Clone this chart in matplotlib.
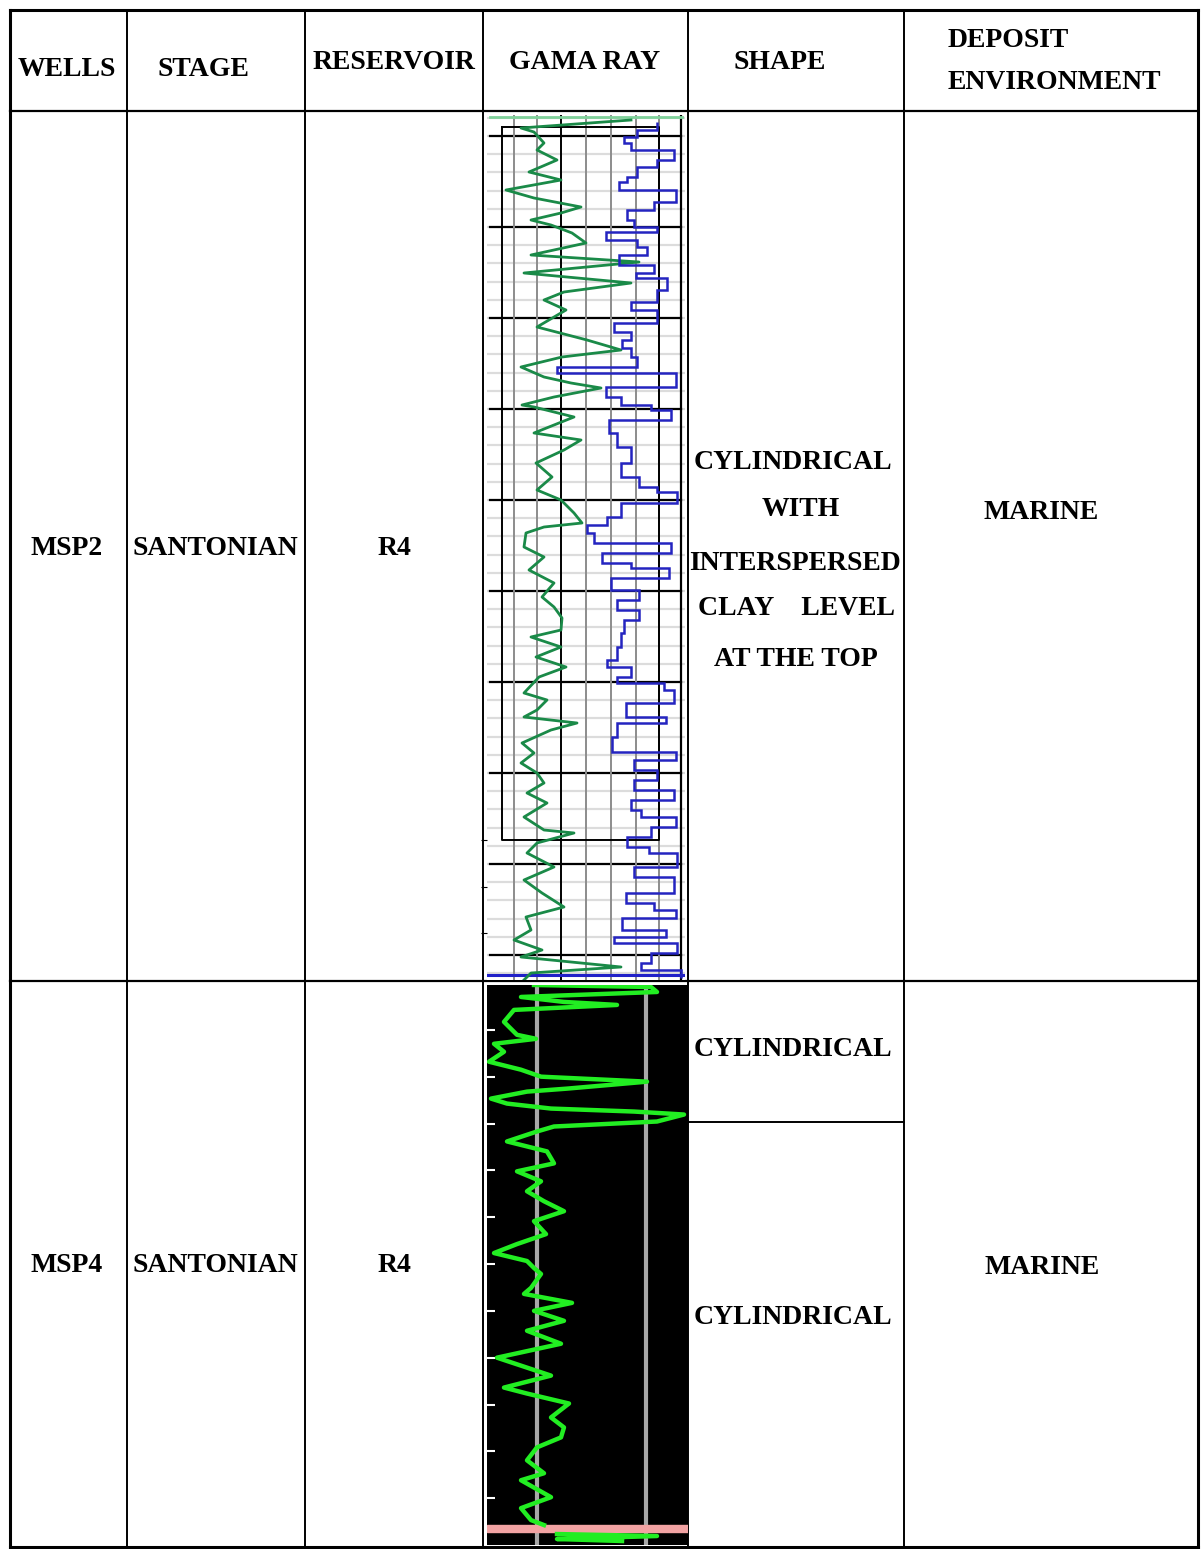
import numpy as np
import matplotlib
matplotlib.use("Agg")
import matplotlib.pyplot as plt

W, H = 1203, 1549  # rozmiar obrazka w pikselach

#------DANE TABELI------
headers = ["WELLS", "STAGE", "RESERVOIR", "GAMA RAY", "SHAPE"]
wells = ["MSP2", "MSP4"]
stages = ["SANTONIAN", "SANTONIAN"]
reservoirs = ["R4", "R4"]
shape_msp2 = ["CYLINDRICAL", "WITH", "INTERSPERSED", "CLAY    LEVEL", "AT THE TOP"]
shape_msp4 = ["CYLINDRICAL", "CYLINDRICAL"]
environments = ["MARINE", "MARINE"]

#------DANE KROTAZU MSP2 (glebokosc wzgledna, GR i druga krzywa schodkowa)------
msp2_depth = [5, 13, 17, 28, 35, 45, 57, 65, 75, 83, 92, 98, 105, 110, 118, 128, 140, 147, 158, 168,
              177, 185, 195, 212, 225, 235, 242, 252, 262, 268, 273, 282, 290,
              292, 302, 318, 325, 335, 348, 362, 375, 385, 398, 408, 412, 418, 432, 442, 455, 468,
              482, 492, 503, 515, 522, 532, 542, 552, 562, 578,
              585, 595, 602, 608, 615, 628, 638, 648, 658, 668, 678, 688, 702, 715, 718, 728, 738,
              752, 765, 778, 792, 802, 815, 825, 835, 842, 852, 858, 865]
msp2_gr = [144, 34, 47, 57, 50, 70, 42, 74, 19, 47, 94, 74, 44, 64, 85, 99, 44, 152, 37, 144,
           77, 57, 79, 50, 100, 134, 75, 34, 57, 84, 114, 67, 35,
           47, 87, 47, 94, 77, 49, 65, 50, 74, 87, 95, 57, 39, 37, 57, 42, 67,
           55, 67, 75, 74, 44, 74, 49, 79, 52, 37,
           60, 50, 37, 90, 64, 35, 47, 34, 50, 57, 40, 60, 37, 57, 87, 50, 40,
           67, 37, 55, 77, 39, 44, 27, 55, 34, 134, 44, 37]

msp2_step_edges = [7, 15, 22, 28, 35, 45, 52, 62, 67, 75, 87, 95, 105, 112, 117, 125, 132, 140, 150, 158,
                   163, 175, 187, 195, 208, 217, 225, 233, 242, 252, 258, 272, 282, 290,
                   295, 305, 318, 332, 348, 362, 372, 377, 388, 402, 410, 418, 428, 438, 448, 453,
                   463, 475, 485, 495, 505, 518, 532, 545, 552, 562, 568,
                   575, 588, 602, 608, 622, 637, 645, 655, 665, 675, 685, 695, 702, 712, 722, 732,
                   738, 752, 762, 778, 788, 795, 803, 815, 822, 828, 838, 848, 855, 863]
msp2_step_vals = [170, 150, 137, 144, 187, 170, 150, 140, 132, 189, 167, 140, 147, 170, 119, 150, 160, 132, 167, 149,
                  180, 170, 144, 170, 127, 144, 135, 144, 150, 70, 189, 119, 134, 164,
                  184, 122, 130, 144, 134, 152, 170, 190, 134, 120, 100, 107, 184, 115, 144, 182,
                  124, 152, 130, 152, 137, 134, 130, 120, 144, 130, 177,
                  187, 139, 179, 130, 125, 189, 147, 170, 147, 187, 144, 154, 189, 164, 140, 162,
                  190, 147, 187, 139, 167, 189, 135, 179, 127, 190, 164, 154, 194]

#------DANE KROTAZU MSP4------
msp4_depth = [0, 2, 7, 12, 17, 20, 25, 37, 50, 54, 59, 67, 77, 85, 92, 97, 104, 107, 114, 119,
              124, 127, 130, 137, 142, 147, 157, 167, 179, 187, 197, 207, 217, 227, 237, 250, 260, 269,
              277, 284, 290, 304, 310, 319, 327, 337, 347, 360, 374, 384, 392, 404, 410, 420, 434,
              444, 454, 464, 477, 490, 497, 514, 525, 537, 542]
msp4_gr = [47, 164, 170, 34, 77, 130, 27, 17, 30, 49, 7, 17, 2, 34, 54, 160, 80, 40, 4, 20,
           64, 147, 197, 170, 67, 50, 20, 60, 67, 30, 54, 40, 57, 77, 47, 59, 30, 7,
           40, 47, 54, 44, 37, 85, 47, 77, 40, 74, 10, 40, 64, 17, 40, 82, 64,
           77, 74, 50, 40, 57, 34, 64, 34, 44, 57]
msp4_tail_depth = [551, 553, 556, 558]
msp4_tail_gr = [70, 170, 70, 135]


def rect(x0, y0, x1, y1):  # piksele -> wspolrzedne figury
    return [x0 / W, 1 - y1 / H, (x1 - x0) / W, (y1 - y0) / H]


fig = plt.figure(figsize=(W / 100, H / 100), dpi=100)
fig.patch.set_facecolor("white")

#------SIATKA TABELI------
tab = fig.add_axes([0, 0, 1, 1])
tab.set_xlim(0, W)
tab.set_ylim(H, 0)
tab.axis("off")

cols = [10, 127, 305, 483, 688, 904, 1198]
top, head, mid, bot = 10, 111, 981, 1547
for x in cols:
    tab.plot([x, x], [top, bot], color="black", lw=2.2 if x in (10, 1198) else 1.4, zorder=1)
for y in (top, head, mid, bot):
    tab.plot([10, 1198], [y, y], color="black", lw=2.2 if y in (top, bot) else 1.6, zorder=1)
tab.plot([688, 904], [1122, 1122], color="black", lw=1.4)

font = dict(family="Liberation Serif", fontweight="bold", fontsize=20, color="black",
            ha="center", va="center")

# naglowki
head_x = [67, 203, 394, 585, 780]
head_y = [69, 69, 62, 62, 62]
for txt, x, y in zip(headers, head_x, head_y):
    tab.text(x, y, txt, **font)
tab.text(948, 40, "DEPOSIT", **{**font, "ha": "left"})
tab.text(948, 82, "ENVIRONMENT", **{**font, "ha": "left"})

# wiersze
row_y = [548, 1266]
for i in range(2):
    tab.text(67, row_y[i], wells[i], **font)
    tab.text(215, row_y[i], stages[i], **font)
    tab.text(394, row_y[i], reservoirs[i], **font)
tab.text(1041, 512, environments[0], **font)
tab.text(1042, 1268, environments[1], **font)

for txt, x, y in zip(shape_msp2, [793, 801, 795, 797, 796], [462, 509, 563, 608, 659]):
    tab.text(x, y, txt, **font)
for txt, y in zip(shape_msp4, [1050, 1318]):
    tab.text(793, y, txt, **font)

#------KROTAZ MSP2------
ax1 = fig.add_axes(rect(487, 115, 685, 980))
ax1.set_xlim(0, 198)
ax1.set_ylim(865, 0)
ax1.set_facecolor("white")
for s in ax1.spines.values():
    s.set_visible(False)
ax1.set_xticks([])
ax1.set_yticks([725, 772, 818])
ax1.tick_params(axis="y", direction="out", length=4, color="black", labelleft=False)

for y in np.arange(2.8, 860, 18.2):  # drobna siatka
    ax1.axhline(y, color="#dcdcdc", lw=1.6, zorder=0)
for y in np.arange(21, 860, 91):  # gruba siatka
    ax1.axhline(y, xmin=0.015, xmax=0.98, color="black", lw=1.6, zorder=1)
for x in [27, 50, 99, 124, 149, 172]:
    ax1.axvline(x, color="#8c8c8c", lw=1.4, zorder=1)
ax1.axvline(74, color="black", lw=1.4, zorder=1)
ax1.axvline(194, color="black", lw=1.6, zorder=1)
ax1.plot([15, 172, 172, 15, 15], [12, 12, 725, 725, 12], color="black", lw=1.4, zorder=1)
ax1.plot([3, 195], [2, 2], color="#7fd19a", lw=2, zorder=2)
ax1.plot([0, 198], [860, 860], color="#2020c8", lw=2.2, zorder=2)

ax1.plot(msp2_gr, msp2_depth, color="#1a8a48", lw=2, zorder=3)
ax1.stairs(msp2_step_vals, msp2_step_edges, orientation="horizontal", baseline=None,
           color="#2424c0", lw=1.8, zorder=3)

#------KROTAZ MSP4------
ax2 = fig.add_axes(rect(487, 985, 688, 1545))
ax2.set_xlim(0, 201)
ax2.set_ylim(562, 0)
ax2.set_facecolor("black")
for s in ax2.spines.values():
    s.set_visible(False)
ax2.set_xticks([])
ax2.set_yticks(np.arange(45, 520, 47))
ax2.tick_params(axis="y", direction="in", length=6, width=1.5, color="white", labelleft=False)
ax2.axvline(50, color="#a8a8a8", lw=3, zorder=1)
ax2.axvline(159, color="#a8a8a8", lw=3, zorder=1)
ax2.axhspan(542, 549, color="#f2a3a3", zorder=2)
ax2.plot(msp4_gr, msp4_depth, color="#22ee22", lw=3.2, zorder=3)
ax2.plot(msp4_tail_gr, msp4_tail_depth, color="#22ee22", lw=3.2, zorder=3)

plt.savefig("out.png", dpi=100, facecolor="white")
